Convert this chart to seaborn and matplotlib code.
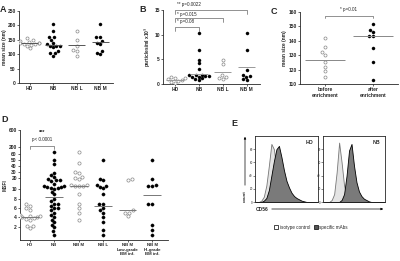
import numpy as np
import pandas as pd
import matplotlib
matplotlib.use("Agg")
import matplotlib.pyplot as plt
from matplotlib.patches import Patch
import seaborn as sns

sns.set_style("ticks")
plt.rcParams['font.family'] = ['Liberation Sans', 'DejaVu Sans']

# ---------------- data ----------------
# Panel A: mean size (nm)
a_cats = ["HD", "NB", "NB L", "NB M"]
a_hd = [155, 148, 145, 143, 140, 140, 138, 137, 135, 132, 130, 120]
a_nb = [205, 180, 160, 158, 150, 140, 135, 130, 130, 128, 125, 110, 105, 103, 95]
a_nbl = [180, 150, 130, 115, 110, 95]
a_nbm = [205, 160, 158, 145, 140, 135, 110, 105, 100]
a_lines = [140, 133, 133, 142]

# Panel B: particles/ml x10^9
b_cats = ["HD", "NB", "NB L", "NB M"]
b_hd = [1.5, 1.3, 1.2, 1.0, 0.8, 0.7, 0.5, 0.3]
b_nb = [10.3, 6.8, 4.9, 4.2, 3.0, 1.9, 1.9, 1.8, 1.7, 1.6, 1.5, 1.4, 1.2, 1.0, 0.8]
b_nbl = [4.9, 4.0, 1.9, 1.5, 1.2, 1.0]
b_nbm = [10.3, 6.8, 2.9, 1.9, 1.7, 1.5, 1.0, 0.8]
b_lines = [0.8, 2.0, 2.5, 3.5]
b_pvals = ["* p=0.08", "* p=0.015", "** p=0.0022"]

# Panel C: mean size (nm) before/after enrichment
c_cats = ["before\nenrichment", "after\nenrichment"]
c_before = [142, 136, 132, 130, 125, 122, 119, 115]
c_after = [152, 147.5, 146, 143, 143, 135, 125, 113]
c_lines = [127, 143]

# Panel D: MSFI
d_cats = ["HD", "NB", "NB M", "NB L", "NB M\nLow-grade\nBM inf.", "NB M\nHi-grade\nBM inf."]
d_hd = [7, 6.5, 6, 5.5, 4.5, 4.3, 4.2, 4, 4, 4, 3.8, 3.7, 3.5, 2.3, 2.2, 1.8]
d_nb = [100, 50, 42, 28, 25, 22, 19, 18, 18, 17, 15, 13, 13, 12, 12, 11, 11, 10, 9.5, 9,
        8, 7.5, 7, 7, 6.5, 6, 6, 5.5, 5, 4.5, 4, 3.5, 3, 2.5, 2, 1.2, 0.5]
d_nbm = [100, 45, 30, 27, 21, 20, 19, 14, 14, 13, 13, 13, 9, 7, 6, 5, 3.5]
d_nbl = [50, 19, 18, 14, 13, 12, 11, 9, 7, 7, 6, 5.5, 5, 4, 3, 1.5, 0.5]
d_low = [19, 18, 5.5, 5, 4.8, 4.2]
d_hi = [50, 19, 14, 13, 13, 7, 7, 2.5, 1.5, 0.5]
d_lines = [4.0, 8.5, 13, 6.5, 5.5, 8.8]
d_ticks = [2, 4, 6, 8, 10, 20, 30, 40, 50, 60, 200, 600]

# Panel E: histogram counts (bins of 4 units over 0-100)
e_edges = list(range(0, 104, 4))
e_hd_iso = [0, 0, 2, 8, 25, 55, 88, 80, 50, 25, 10, 4, 1, 0, 0, 0, 0, 0, 0, 0, 0, 0, 0, 0, 0]
e_hd_spec = [0, 0, 0, 2, 6, 18, 40, 62, 80, 85, 68, 48, 32, 22, 14, 9, 6, 4, 2, 1, 0, 0, 0, 0, 0]
e_nb_iso = [0, 0, 0, 3, 12, 45, 90, 60, 25, 8, 2, 0, 0, 0, 0, 0, 0, 0, 0, 0, 0, 0, 0, 0, 0]
e_nb_spec = [0, 0, 0, 0, 0, 0, 0, 3, 12, 40, 78, 88, 55, 30, 16, 9, 5, 3, 1, 0, 0, 0, 0, 0, 0]

# ---------------- figure ----------------
W, H = 400, 261
fig = plt.figure(figsize=(4.0, 2.61), dpi=100)

def rect(x0, y0, x1, y1):
    return [x0 / W, 1 - y1 / H, (x1 - x0) / W, (y1 - y0) / H]

FS = 3.5
OPEN = dict(color="white", edgecolor="#888888", linewidth=0.5)
FILL = dict(color="black", edgecolor="black", linewidth=0.3)

def style_ax(ax):
    for s in ["top", "right"]:
        ax.spines[s].set_visible(False)
    for s in ["left", "bottom"]:
        ax.spines[s].set_linewidth(0.6)
    ax.tick_params(axis="both", length=1.5, width=0.5, pad=0.8, labelsize=FS)
    for lab in ax.get_xticklabels() + ax.get_yticklabels():
        lab.set_fontweight("bold")

def dots(ax, cats, groups, kinds, size):
    rows = []
    for c, g in zip(cats, groups):
        for v in g:
            rows.append((c, v))
    df = pd.DataFrame(rows, columns=["cat", "val"])
    open_c = [c for c, k in zip(cats, kinds) if k == "o"]
    fill_c = [c for c, k in zip(cats, kinds) if k == "f"]
    if open_c:
        sns.swarmplot(data=df[df.cat.isin(open_c)], x="cat", y="val", order=cats,
                      size=size, ax=ax, **OPEN)
    if fill_c:
        sns.swarmplot(data=df[df.cat.isin(fill_c)], x="cat", y="val", order=cats,
                      size=size, ax=ax, **FILL)

def med_lines(ax, vals, half=0.36, color="#555555"):
    for i, v in enumerate(vals):
        ax.hlines(v, i - half, i + half, color=color, linewidth=0.7, zorder=5)

def bracket(ax, x0, x1, y, drop, text, ty, tx=None, ha="center"):
    tr = ax.get_xaxis_transform()
    ax.plot([x0, x0, x1, x1], [y - drop, y, y, y - drop], color="#666666",
            linewidth=0.5, transform=tr, clip_on=False)
    if text:
        ax.text((x0 + x1) / 2 if tx is None else tx, ty, text, transform=tr,
                ha=ha, va="center", fontsize=3.3, clip_on=False)

# ---- A ----
axA = fig.add_axes(rect(19, 11, 113, 83))
dots(axA, a_cats, [a_hd, a_nb, a_nbl, a_nbm], ["o", "f", "o", "f"], 2.2)
med_lines(axA, a_lines)
axA.set_xlim(-0.45, 3.55)
axA.set_ylim(0, 250)
axA.set_yticks([0, 50, 100, 150, 200, 250])
axA.set_xlabel("")
axA.set_ylabel("mean size (nm)", fontsize=FS, fontweight="bold", labelpad=0.5)
style_ax(axA)

# ---- B ----
axB = fig.add_axes(rect(163, 10, 260, 84))
dots(axB, b_cats, [b_hd, b_nb, b_nbl, b_nbm], ["o", "f", "o", "f"], 2.2)
med_lines(axB, b_lines, color="#999999")
axB.set_xlim(-0.5, 3.55)
axB.set_ylim(0, 15)
axB.set_yticks([0, 5, 10, 15])
axB.set_xlabel("")
axB.set_ylabel(r"particles/ml x10$^9$", fontsize=FS, fontweight="bold", labelpad=1)
style_ax(axB)
bracket(axB, 0, 1, 0.77, 0.05, b_pvals[0], 0.84, tx=0.1, ha="left")
bracket(axB, 0, 2, 0.89, 0.05, b_pvals[1], 0.945, tx=0.1, ha="left")
bracket(axB, 0, 3, 1.0, 0.05, b_pvals[2], 1.07, tx=0.1, ha="left")

# ---- C ----
axC = fig.add_axes(rect(300, 12, 398, 84))
dots(axC, c_cats, [c_before, c_after], ["o", "f"], 2.2)
med_lines(axC, c_lines, half=0.42, color="#888888")
axC.set_xlim(-0.52, 1.52)
axC.set_ylim(110, 160)
axC.set_yticks([110, 120, 130, 140, 150, 160])
axC.set_xlabel("")
axC.set_ylabel("mean size (nm)", fontsize=FS, fontweight="bold", labelpad=1)
style_ax(axC)
bracket(axC, 0, 1, 0.945, 0.03, "* p=0.01", 1.03)

# ---- D ----
d_knot_v = np.array([-0.6, 0, 2, 4, 6, 8, 10, 20, 30, 40, 50, 60, 200, 600], float)
d_knot_p = np.array([0, 3, 13, 23, 32, 41, 51, 62, 68.5, 74.5, 80, 86, 93, 110], float)

def fwd(v):
    return np.interp(v, d_knot_v, d_knot_p)

def inv(p):
    return np.interp(p, d_knot_p, d_knot_v)

axD = fig.add_axes(rect(20, 130, 168, 240))
axD.set_yscale("function", functions=(fwd, inv))
axD.set_ylim(-0.6, 600)
dots(axD, d_cats, [d_hd, d_nb, d_nbm, d_nbl, d_low, d_hi],
     ["o", "f", "o", "f", "o", "f"], 2.3)
med_lines(axD, d_lines, color="#777777")
axD.set_xlim(-0.4, 5.65)
axD.set_ylim(-0.6, 600)
axD.set_yticks(d_ticks)
axD.set_yticklabels([str(t) for t in d_ticks])
axD.minorticks_off()
axD.set_xlabel("")
axD.set_ylabel("MSFI", fontsize=FS, fontweight="bold", labelpad=0.5)
style_ax(axD)
for lab in axD.get_xticklabels():
    lab.set_fontsize(3.2)
bracket(axD, 0, 1, 0.855, 0.03, "p< 0.0001", 0.91)
axD.text(0.5, 0.975, "***", transform=axD.get_xaxis_transform(), ha="center",
         va="center", fontsize=4, fontweight="bold", clip_on=False)

# ---- E ----
centers = [(e_edges[i] + e_edges[i + 1]) / 2 for i in range(len(e_edges) - 1)]

def hist_panel(ax, iso, spec, label):
    sns.histplot(x=centers, weights=iso, bins=e_edges, element="poly", fill=True,
                 ax=ax, facecolor="#e4e4e4", edgecolor="#777777", linewidth=0.6, alpha=1)
    sns.histplot(x=centers, weights=spec, bins=e_edges, element="poly", fill=True,
                 ax=ax, facecolor="#7a7a7a", edgecolor="black", linewidth=0.6, alpha=0.9)
    ax.set_xlim(0, 100)
    ax.set_ylim(0, 100)
    ax.set_xticks([])
    ax.set_yticks([0, 20, 40, 60, 80])
    ax.tick_params(axis="y", length=1.2, width=0.4, pad=0.5, labelsize=2.2)
    ax.set_xlabel("")
    ax.set_ylabel("")
    for s in ax.spines.values():
        s.set_linewidth(0.6)
        s.set_visible(True)
    ax.text(0.93, 0.9, label, transform=ax.transAxes, ha="right", va="center",
            fontsize=3.8, fontweight="bold")

axE1 = fig.add_axes(rect(255, 136, 318, 202))
hist_panel(axE1, e_hd_iso, e_hd_spec, "HD")
axE2 = fig.add_axes(rect(323, 136, 385, 202))
hist_panel(axE2, e_nb_iso, e_nb_spec, "NB")

def fx(x):
    return x / W

def fy(y):
    return 1 - y / H

fig.add_artist(matplotlib.patches.FancyArrowPatch(
    (fx(245), fy(188)), (fx(245), fy(134)), transform=fig.transFigure,
    arrowstyle="-|>", mutation_scale=3, linewidth=0.5, color="black"))
fig.text(fx(245), fy(196), "count", rotation=90, ha="center", va="center",
         fontsize=3.2, fontweight="bold")
fig.add_artist(matplotlib.patches.FancyArrowPatch(
    (fx(269), fy(209)), (fx(386), fy(209)), transform=fig.transFigure,
    arrowstyle="-|>", mutation_scale=3, linewidth=0.5, color="black"))
fig.text(fx(262), fy(209.5), "CD56", ha="center", va="center", fontsize=3.5,
         fontweight="bold")

handles = [Patch(facecolor="white", edgecolor="black", linewidth=0.5, label="isotype control"),
           Patch(facecolor="#555555", edgecolor="black", linewidth=0.5, label="specific mAbs")]
fig.legend(handles=handles, loc="center left", bbox_to_anchor=(fx(272), fy(227)),
           ncol=2, frameon=False, fontsize=3.3, handlelength=0.8, handleheight=0.8,
           handletextpad=0.4, columnspacing=0.8, borderpad=0)

# panel letters
for letter, (x, y) in {"A": (0, 9), "B": (139, 10), "C": (271, 12),
                       "D": (1, 119), "E": (231, 124)}.items():
    fig.text(fx(x), fy(y), letter, fontsize=6.5, fontweight="bold", ha="left", va="center")

fig.savefig("out.png", dpi=100)
